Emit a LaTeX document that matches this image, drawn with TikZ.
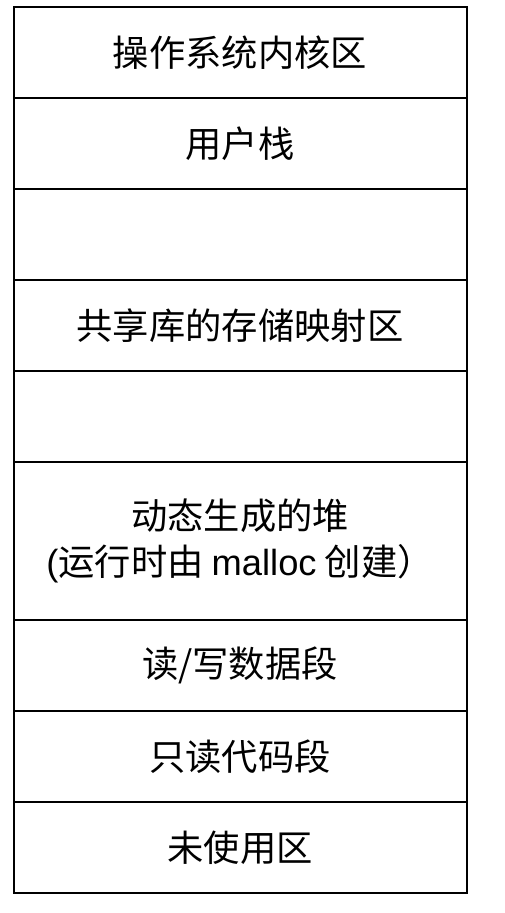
\documentclass[tikz,border=0pt]{standalone}
\usepackage{fontspec}
\setmainfont{Liberation Sans}
\newfontfamily\cjk{Noto Sans CJK SC}
\usetikzlibrary{positioning}

\begin{document}
\begin{tikzpicture}[seg/.style = {draw, line width=2pt, outer sep=0pt, inner sep=0pt, minimum width=453pt, minimum height=91pt, align=center, font=\cjk\fontsize{36.3}{46}\selectfont}, node distance=0pt]
\useasboundingbox (0,0) rectangle (504pt,-913pt);
\node[seg] (1) at (240pt,-52.5pt) {操作系统内核区};
\node[seg] (2) [below=of 1] {用户栈};
\node[seg] (3) [below=of 2] {};
\node[seg] (4) [below=of 3] {共享库的存储映射区};
\node[seg] (5) [below=of 4] {};
\node[seg, minimum height=158pt] (6) [below=of 5] {动态生成的堆\\{\rmfamily(}运行时由 {\rmfamily malloc} 创建）};
\node[seg] (7) [below=of 6] {读/写数据段};
\node[seg] (8) [below=of 7] {只读代码段};
\node[seg] (9) [below=of 8] {未使用区};
\end{tikzpicture}
\end{document}
